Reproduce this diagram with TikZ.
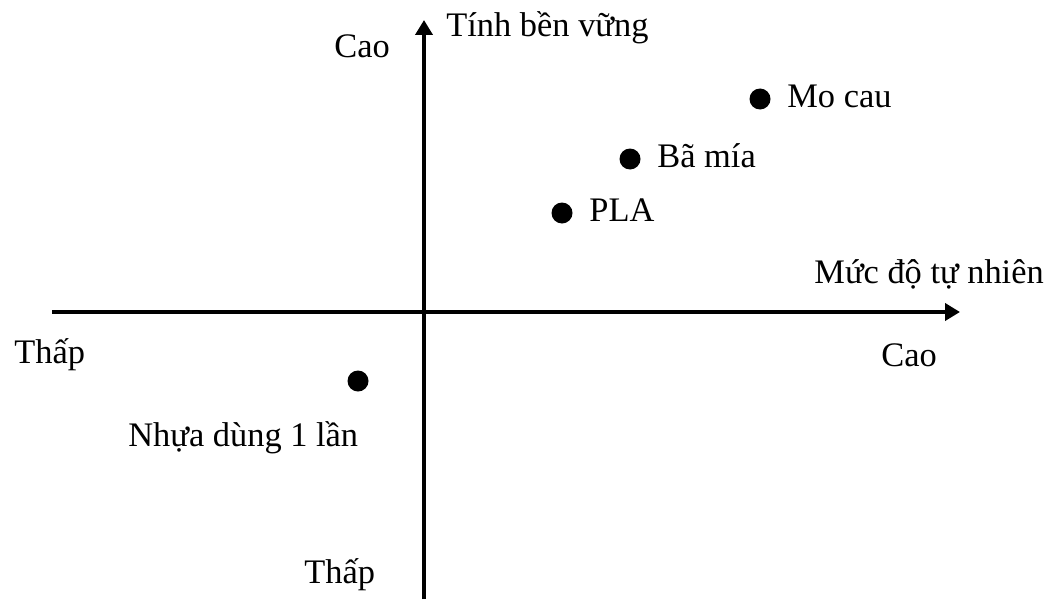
\documentclass[tikz,border=0pt]{standalone}
\usepackage{fontspec}
\setmainfont{Liberation Serif}
\usetikzlibrary{arrows.meta}
\begin{document}
\begin{tikzpicture}[x=0.5pt,y=-0.5pt,
  lbl/.style={anchor=base west,inner sep=0pt,font=\fontsize{17.2pt}{20pt}\selectfont},
  axis/.style={line width=1.9pt,-{Triangle[length=7.5pt,width=8.5pt]}},
  pt/.style={circle,fill=black,inner sep=0pt,minimum width=10pt,minimum height=10.5pt}]
\useasboundingbox (0,0) rectangle (1052,599);
% axes
\coordinate (xs) at (52,312);
\coordinate (xe) at (960,312);
\coordinate (ys) at (424,599);
\coordinate (ye) at (424,20);
\draw[axis] (xs) -- (xe);
\draw[axis] (ys) -- (ye);
% axis labels
\node[lbl] (ttl) at (446,37) {Tính bền vững};
\node[lbl] (ch) at (334,58) {Cao};
\node[lbl] (xt) at (814,283) {Mức độ tự nhiên};
\node[lbl] (tl) at (14,363) {Thấp};
\node[lbl] (cr) at (881,366) {Cao};
\node[lbl] (tb) at (304,583) {Thấp};
% points
\node[pt] (p1) at (760,99) {};
\node[lbl] (l1) at (787,107) {Mo cau};
\node[pt] (p2) at (630,159) {};
\node[lbl] (l2) at (657,167) {Bã mía};
\node[pt] (p3) at (562,213) {};
\node[lbl] (l3) at (589,221) {PLA};
\node[pt] (p4) at (358,381) {};
\node[lbl] (l4) at (128,446) {Nhựa dùng 1 lần};
\end{tikzpicture}
\end{document}
